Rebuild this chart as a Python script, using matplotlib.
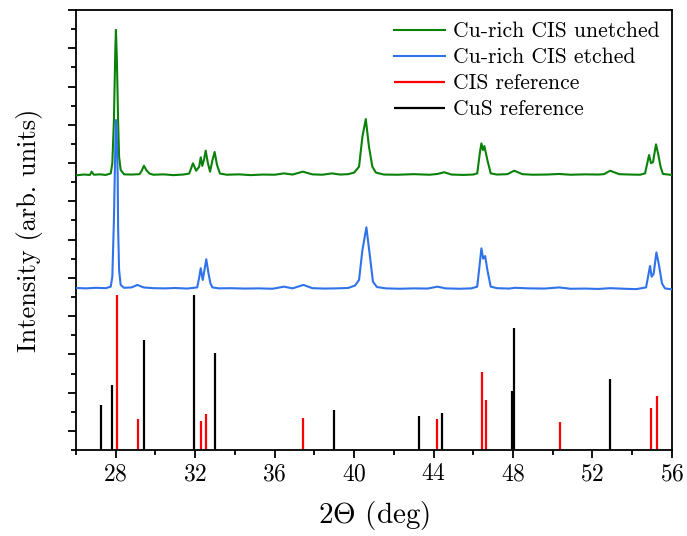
import numpy as np
import matplotlib
matplotlib.use("Agg")
from matplotlib import pyplot as plt

plt.rcParams["font.family"] = "serif"
plt.rcParams["font.serif"] = ["cmr10"]
plt.rcParams["mathtext.fontset"] = "cm"
plt.rcParams["axes.formatter.use_mathtext"] = True

# measured XRD scans (2theta, offset intensity)
unetched_tt = [26.0, 26.4, 26.7, 26.79, 26.9, 27.2, 27.5, 27.75, 27.83, 27.91, 27.98, 28.01,
               28.05, 28.07, 28.12, 28.17, 28.25, 28.42, 28.8, 29.2, 29.3, 29.42, 29.55, 29.7,
               29.9, 30.4, 30.9, 31.4, 31.7, 31.89, 32.05, 32.2, 32.28, 32.36, 32.45, 32.53,
               32.64, 32.75, 32.86, 32.98, 33.1, 33.25, 33.6, 34.2, 34.8, 35.4, 36.0, 36.47,
               36.9, 37.42, 37.9, 38.4, 38.88, 39.3, 39.7, 40.0, 40.25, 40.42, 40.59, 40.75,
               40.92, 41.1, 41.5, 42.2, 43.0, 43.8, 44.2, 44.53, 44.9, 45.5, 46.0, 46.2, 46.33,
               46.41, 46.49, 46.56, 46.71, 46.88, 47.2, 47.72, 48.06, 48.48, 49.0, 49.7, 50.32,
               50.9, 51.6, 52.3, 52.58, 52.89, 53.34, 53.9, 54.4, 54.65, 54.85, 54.95, 55.05,
               55.2, 55.32, 55.43, 55.55, 56.0]
unetched_int = [14.36, 14.40, 14.38, 14.55, 14.39, 14.41, 14.38, 14.46, 14.99, 17.25, 20.91, 21.96,
                20.74, 19.86, 17.25, 15.33, 14.64, 14.41, 14.40, 14.42, 14.58, 14.86, 14.62, 14.45,
                14.39, 14.41, 14.37, 14.40, 14.45, 14.99, 14.60, 14.80, 15.30, 14.85, 15.20, 15.65,
                15.00, 14.55, 15.10, 15.58, 14.90, 14.45, 14.39, 14.41, 14.37, 14.40, 14.39, 14.46,
                14.40, 14.55, 14.41, 14.39, 14.46, 14.40, 14.42, 14.50, 14.81, 16.38, 17.30, 15.85,
                14.81, 14.50, 14.40, 14.39, 14.42, 14.39, 14.43, 14.52, 14.40, 14.38, 14.40, 14.46, 15.51,
                16.03, 15.68, 15.89, 15.16, 14.46, 14.40, 14.42, 14.60, 14.42, 14.39, 14.40, 14.43,
                14.39, 14.41, 14.40, 14.42, 14.60, 14.42, 14.40, 14.39, 14.46, 15.42, 14.99, 15.05,
                15.98, 15.42, 14.81, 14.43, 14.38]

etched_tt = [26.0, 26.5, 27.0, 27.5, 27.75, 27.83, 27.91, 27.98, 28.01, 28.05, 28.10, 28.12,
             28.17, 28.25, 28.42, 28.8, 29.09, 29.4, 29.9, 30.5, 31.0, 31.6, 32.1, 32.2, 32.28,
             32.38, 32.45, 32.56, 32.66, 32.77, 32.87, 33.2, 33.8, 34.5, 35.2, 35.9, 36.47, 36.9,
             37.45, 37.9, 38.5, 39.1, 39.7, 40.05, 40.25, 40.42, 40.62, 40.78, 40.95, 41.15, 41.6,
             42.3, 43.0, 43.7, 44.2, 44.6, 45.3, 45.9, 46.2, 46.33, 46.41, 46.5, 46.6, 46.71,
             46.88, 47.2, 47.8, 48.1, 48.8, 49.6, 50.32, 50.9, 51.6, 52.3, 52.9, 53.6, 54.2,
             54.7, 54.9, 54.98, 55.08, 55.22, 55.35, 55.5, 55.65, 56.0]
etched_int = [8.47, 8.45, 8.48, 8.46, 8.54, 9.06, 12.02, 15.85, 17.25, 16.73, 14.29, 11.67,
              9.41, 8.63, 8.48, 8.50, 8.63, 8.50, 8.46, 8.45, 8.47, 8.44, 8.50, 9.00, 9.50,
              8.89, 9.30, 9.97, 9.30, 8.70, 8.50, 8.45, 8.46, 8.44, 8.45, 8.43, 8.54, 8.45,
              8.63, 8.46, 8.44, 8.45, 8.47, 8.60, 8.89, 10.45, 11.64, 10.28, 8.80, 8.52, 8.45,
              8.43, 8.45, 8.44, 8.54, 8.45, 8.43, 8.45, 8.54, 9.76, 10.54, 10.00, 10.14, 9.41,
              8.54, 8.46, 8.44, 8.48, 8.45, 8.44, 8.50, 8.43, 8.44, 8.42, 8.46, 8.43, 8.41,
              8.50, 9.62, 9.06, 9.20, 10.33, 9.67, 8.71, 8.45, 8.40]

# reference stick patterns
cis_pos = [28.05, 29.14, 32.31, 32.55, 37.45, 44.18, 46.46, 46.63, 50.37, 54.94, 55.26]
cis_h = [8.1, 1.62, 1.52, 1.88, 1.67, 1.62, 4.08, 2.61, 1.46, 2.2, 2.82]
cus_pos = [27.26, 27.83, 29.41, 31.93, 32.98, 38.98, 43.25, 44.45, 47.94, 48.07, 52.87]
cus_h = [2.34, 3.4, 5.75, 8.1, 5.07, 2.09, 1.78, 1.93, 3.08, 6.38, 3.71]

fig = plt.figure(figsize=(6.87, 5.36), dpi=100)
ax = fig.add_axes([0.1106, 0.1604, 0.978 - 0.1106, 0.9813 - 0.1604])

ax.vlines(cus_pos, 0, cus_h, color="black", linewidth=1.6, label="CuS reference", zorder=2)
ax.vlines(cis_pos, 0, cis_h, color="red", linewidth=1.6, label="CIS reference", zorder=2)
ax.plot(unetched_tt, unetched_int, color="#0a820a", linewidth=1.5, label="Cu-rich CIS unetched", zorder=3)
ax.plot(etched_tt, etched_int, color="#2f72ea", linewidth=1.5, label="Cu-rich CIS etched", zorder=4)

ax.set_xlim(26, 56)
ax.set_ylim(0, 23)
ax.set_xticks(np.arange(28, 57, 4))
ax.set_xticks(np.arange(26, 57, 4), minor=True)
ax.set_yticks(np.arange(1, 24, 2))
ax.set_yticks(np.arange(0, 23, 2), minor=True)
ax.set_yticklabels([])
ax.tick_params(which="major", direction="out", length=6, width=1.3, labelsize=17)
ax.tick_params(which="minor", direction="out", length=3.5, width=1.3)
for s in ax.spines.values():
    s.set_linewidth(1.3)

ax.set_xlabel(r"2$\Theta$ (deg)", fontsize=21, labelpad=10)
ax.set_ylabel("Intensity (arb. units)", fontsize=19, labelpad=14)

h, l = ax.get_legend_handles_labels()
order = [2, 3, 1, 0]
ax.legend([h[i] for i in order], [l[i] for i in order], loc="upper right", frameon=False,
          fontsize=15.5, handlelength=2.35, handletextpad=0.4, borderaxespad=0.2,
          borderpad=0.35, labelspacing=0.3)

fig.savefig("out.png", dpi=100)
